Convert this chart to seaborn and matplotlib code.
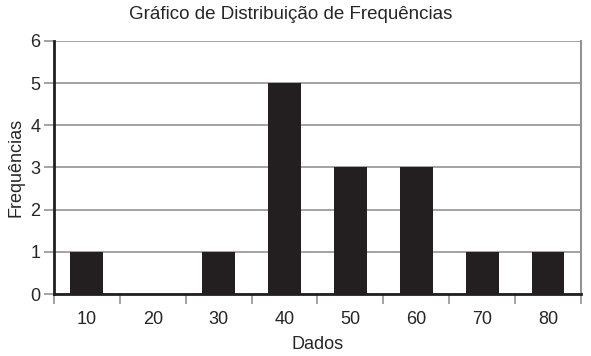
import numpy as np
import pandas as pd
import matplotlib
matplotlib.use("Agg")
import matplotlib.pyplot as plt
import seaborn as sns

dados = ["10", "20", "30", "40", "50", "60", "70", "80"]
frequencias = [1, 0, 1, 5, 3, 3, 1, 1]

df = pd.DataFrame({"Dados": dados, "Frequências": frequencias})

sns.set_style("white")
plt.rcParams["font.family"] = ["Liberation Sans", "DejaVu Sans"]

fig = plt.figure(figsize=(5.91, 3.56), dpi=100)
ax = fig.add_axes([0.0914, 0.174, 0.983 - 0.0914, 0.885 - 0.174])

grey = "#939393"
fs = 13
ax.set_ylim(0, 6)
ax.set_yticks(range(0, 7))
ax.yaxis.grid(True, color=grey, linewidth=1.2, zorder=0)
ax.set_axisbelow(True)

sns.barplot(data=df, x="Dados", y="Frequências", color="#231f20", width=0.5,
            saturation=1, linewidth=0, ax=ax, zorder=3)
ax.set_xlim(-0.5, 7.5)

# ticks
ax.tick_params(axis="x", which="major", length=0, pad=12, labelsize=fs)
ax.set_xticks(np.arange(-0.5, 8, 1), minor=True)
ax.tick_params(axis="x", which="minor", length=7, width=1.2, color=grey, bottom=True)
ax.tick_params(axis="y", length=7, width=1.2, color=grey, left=True, labelsize=fs, pad=3)

for s in ["left", "bottom"]:
    ax.spines[s].set_color("#231f20")
    ax.spines[s].set_linewidth(2)
ax.spines["right"].set_color(grey)
ax.spines["right"].set_linewidth(1.5)
ax.spines["top"].set_visible(False)

ax.set_xlabel("Dados", fontsize=fs, labelpad=6)
ax.set_ylabel("Frequências", fontsize=fs, labelpad=4)
fig.text(0.492, 0.96, "Gráfico de Distribuição de Frequências", ha="center",
         va="center", fontsize=13.5)

fig.savefig("out.png", dpi=100)
